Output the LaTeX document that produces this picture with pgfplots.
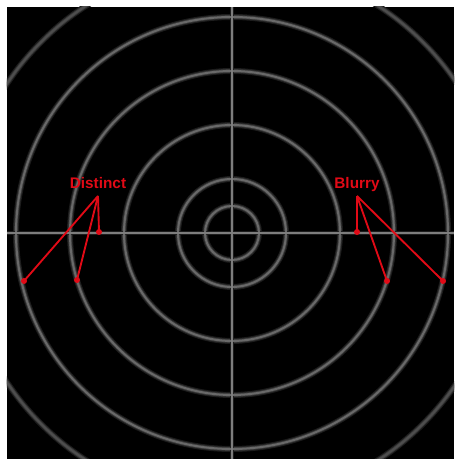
\documentclass[border=0pt]{standalone}
\usepackage{fontspec}
\setmainfont{Liberation Sans}
\usepackage{pgfplots}
\pgfplotsset{compat=1.18}
\definecolor{ared}{RGB}{225,10,22}
\definecolor{ringglow}{RGB}{28,28,28}
\definecolor{ringmid}{RGB}{60,60,60}
\definecolor{ring}{RGB}{105,105,105}
\definecolor{ringdim}{RGB}{78,78,78}
\definecolor{cross}{RGB}{125,125,125}
\begin{document}
\begin{tikzpicture}
\begin{axis}[
  x=0.75pt, y=0.75pt,
  xmin=7, xmax=454, ymin=0, ymax=452,
  scale only axis,
  axis line style={draw=none},
  ticks=none,
  axis background/.style={fill=black},
]
% glow
\pgfplotsinvokeforeach{27,54,108,162,216,270}{
  \draw[ringglow, line width=4.5pt] (axis cs:232,226) circle[radius=#1];
}
\pgfplotsinvokeforeach{27,54,108,162,216,270}{
  \draw[ringmid, line width=2.8pt] (axis cs:232,226) circle[radius=#1];
}
\draw[ringglow, line width=3.5pt] (axis cs:7,226) -- (axis cs:454,226);
\draw[ringglow, line width=3.5pt] (axis cs:232,0) -- (axis cs:232,452);
\draw[ringmid, line width=2.2pt] (axis cs:7,226) -- (axis cs:454,226);
\draw[ringmid, line width=2.2pt] (axis cs:232,0) -- (axis cs:232,452);
% rings
\pgfplotsinvokeforeach{27,54,108,162,216}{
  \draw[ring, line width=1.5pt] (axis cs:232,226) circle[radius=#1];
}
\draw[ringdim, line width=1.5pt] (axis cs:232,226) circle[radius=270];
\addplot[cross, line width=1.1pt] coordinates {(7,226) (454,226)};
\addplot[cross, line width=1.1pt] coordinates {(232,0) (232,452)};
% arrows
\addplot[ared, line width=1.4pt, mark=*, mark size=1.5pt, mark indices={2}] coordinates {(98,263) (99,227)};
\addplot[ared, line width=1.4pt, mark=*, mark size=1.5pt, mark indices={2}] coordinates {(98,263) (77,179)};
\addplot[ared, line width=1.4pt, mark=*, mark size=1.5pt, mark indices={2}] coordinates {(98,263) (24,178)};
\addplot[ared, line width=1.4pt, mark=*, mark size=1.5pt, mark indices={2}] coordinates {(357,263) (357,227)};
\addplot[ared, line width=1.4pt, mark=*, mark size=1.5pt, mark indices={2}] coordinates {(357,263) (387,178)};
\addplot[ared, line width=1.4pt, mark=*, mark size=1.5pt, mark indices={2}] coordinates {(357,263) (443,178)};
\node[ared, anchor=base, inner sep=0pt, font=\fontsize{11.5}{13}\selectfont\bfseries] at (axis cs:98,270) {Distinct};
\node[ared, anchor=base, inner sep=0pt, font=\fontsize{11.5}{13}\selectfont\bfseries] at (axis cs:357,270) {Blurry};
\end{axis}
\path ([xshift=-5.25pt,yshift=5.25pt]current axis.north west);
\end{tikzpicture}
\end{document}
